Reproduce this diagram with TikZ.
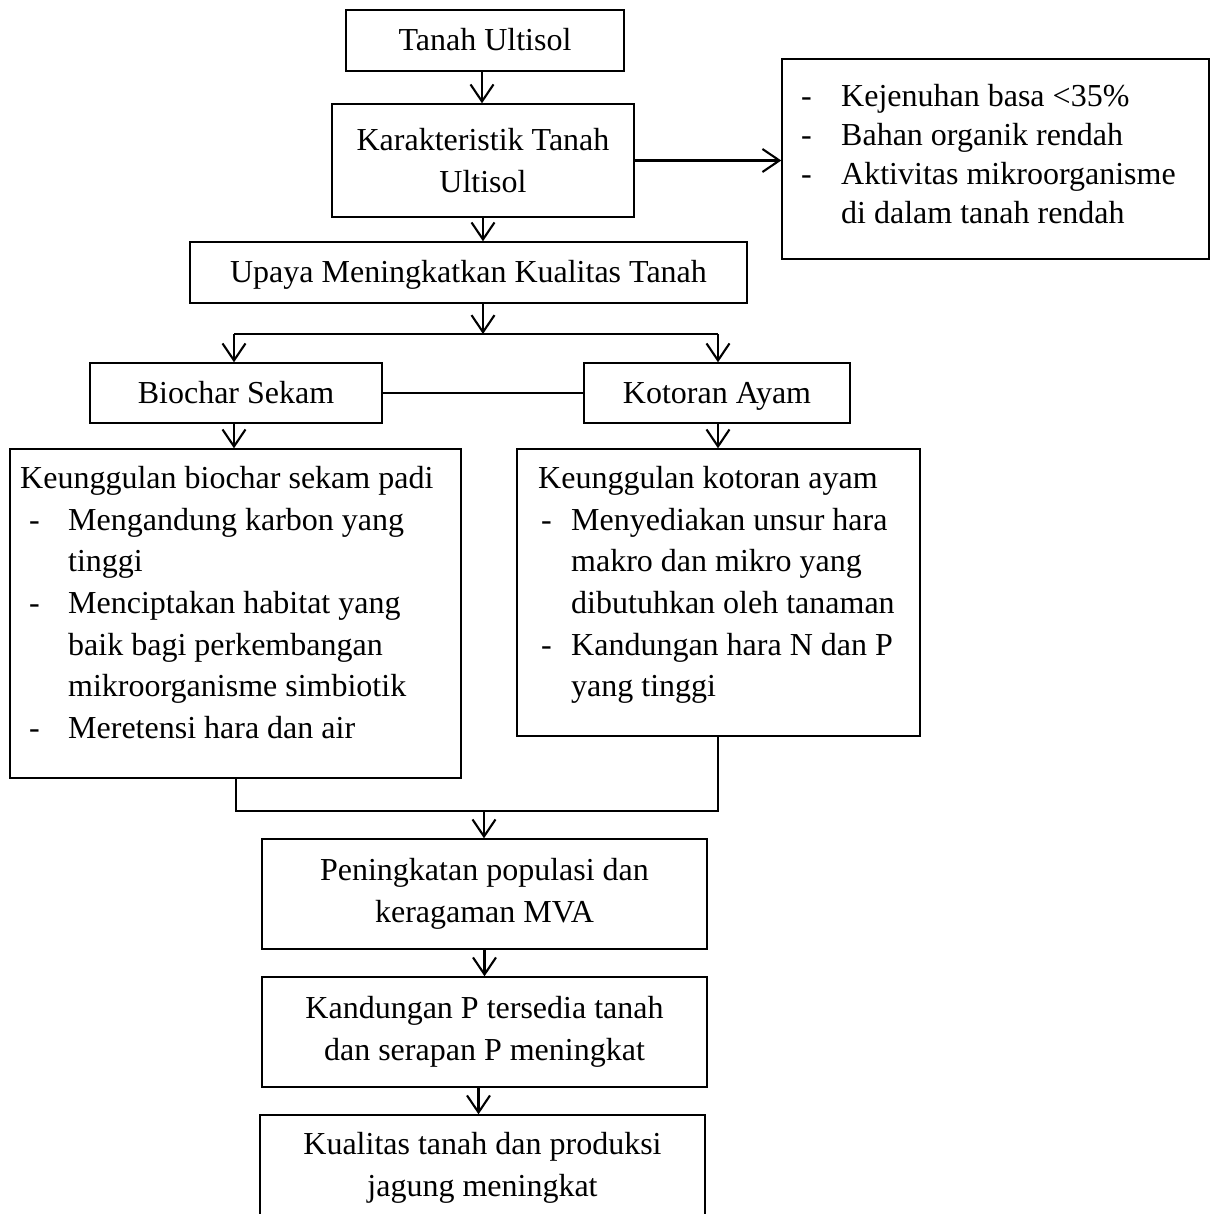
\documentclass[tikz,border=0pt]{standalone}
\usepackage{fontspec}
\setmainfont{Liberation Serif}
\usetikzlibrary{arrows.meta,calc}
\tikzset{
  boxnode/.style={draw=black, line width=1.4pt, rectangle, inner sep=0pt, align=center,
    font=\fontsize{32}{41.7}\selectfont},
  oneline/.style={text height=22pt, text depth=1.5pt},
  txt/.style={inner sep=0pt, anchor=base west, font=\fontsize{32}{41.7}\selectfont},
  conn/.style={line width=2.2pt, -{Straight Barb[length=17pt,width=23pt,line width=2.1pt]}},
  plain/.style={line width=2.4pt},
  thickline/.style={line width=2.7pt, line join=miter},
}
\begin{document}
\begin{tikzpicture}[x=1pt,y=-1pt]
\clip (0,0) rectangle (1210,1214);
\fill[white] (0,0) rectangle (1210,1214);

% boxes
\node[boxnode, oneline, minimum width=278pt, minimum height=61pt] (t1) at (485,40.5) {Tanah Ultisol};
\node[boxnode, minimum width=302pt, minimum height=113pt] (t2) at (483,160.5) {Karakteristik Tanah\\Ultisol};
\node[boxnode, minimum width=427pt, minimum height=200pt] (rb) at (995.5,159) {};
\node[boxnode, oneline, minimum width=557pt, minimum height=61pt] (up) at (468.5,272.5) {Upaya Meningkatkan Kualitas Tanah};
\node[boxnode, oneline, minimum width=292pt, minimum height=60pt] (bs) at (236,393) {Biochar Sekam};
\node[boxnode, oneline, minimum width=266pt, minimum height=60pt] (ka) at (717,393) {Kotoran Ayam};
\node[boxnode, minimum width=451pt, minimum height=329pt] (kb) at (235.5,613.5) {};
\node[boxnode, minimum width=403pt, minimum height=287pt] (kk) at (718.5,592.5) {};
\node[boxnode, minimum width=445pt, minimum height=110pt] (pm) at (484.5,894) {Peningkatan populasi dan\\keragaman MVA};
\node[boxnode, minimum width=445pt, minimum height=110pt] (kp) at (484.5,1032) {Kandungan P tersedia tanah\\dan serapan P meningkat};
\node[boxnode, minimum width=445pt, minimum height=106pt] (kq) at (482.5,1168) {Kualitas tanah dan produksi\\jagung meningkat};

% text of the right top box
\node[txt] (r1d) at (801,107) {-};
\node[txt] (r1) at (841,107) {Kejenuhan basa <35\%};
\node[txt] (r2d) at (801,146) {-};
\node[txt] (r2) at (841,146) {Bahan organik rendah};
\node[txt] (r3d) at (801,185) {-};
\node[txt] (r3) at (841,185) {Aktivitas mikroorganisme};
\node[txt] (r4) at (841,224) {di dalam tanah rendah};

% left list
\node[txt] (l0) at (20,488) {Keunggulan biochar sekam padi};
\node[txt] (l1d) at (29,530) {-};
\node[txt] (l1) at (68,530) {Mengandung karbon yang};
\node[txt] (l2) at (68,571) {tinggi};
\node[txt] (l3d) at (29,613) {-};
\node[txt] (l3) at (68,613) {Menciptakan habitat yang};
\node[txt] (l4) at (68,655) {baik bagi perkembangan};
\node[txt] (l5) at (68,696) {mikroorganisme simbiotik};
\node[txt] (l6d) at (29,738) {-};
\node[txt] (l6) at (68,738) {Meretensi hara dan air};

% right list
\node[txt] (k0) at (538,488) {Keunggulan kotoran ayam};
\node[txt] (k1d) at (541,530) {-};
\node[txt] (k1) at (571,530) {Menyediakan unsur hara};
\node[txt] (k2) at (571,571) {makro dan mikro yang};
\node[txt] (k3) at (571,613) {dibutuhkan oleh tanaman};
\node[txt] (k4d) at (541,655) {-};
\node[txt] (k4) at (571,655) {Kandungan hara N dan P};
\node[txt] (k5) at (571,696) {yang tinggi};

% junction coordinates
\coordinate (j1) at (483,334);
\coordinate (j2) at (484,811);

% connectors
\draw[conn] ([xshift=-3pt]t1.south) -- ([xshift=-3pt]t1.south |- t2.north);
\draw[conn] (t2.east) -- (t2.east -| rb.west);
\draw[conn] (t2.south) -- (t2.south |- up.north);
\draw[conn] (j1 |- up.south) -- (j1);
\draw[thickline] ([xshift=-2pt]bs.north |- j1) -- ([xshift=1pt]ka.north |- j1);
\draw[conn] ([xshift=-2pt]bs.north |- j1) -- ([xshift=-2pt]bs.north);
\draw[conn] ([xshift=1pt]ka.north |- j1) -- ([xshift=1pt]ka.north);
\draw[plain] (bs.east) -- (ka.west);
\draw[conn] ([xshift=-2pt]bs.south) -- ([xshift=-2pt]bs.south |- kb.north);
\draw[conn] ([xshift=1pt]ka.south) -- ([xshift=1pt]ka.south |- kk.north);
\draw[thickline] (bs.south |- kb.south) -- (bs.south |- j2) -- ([xshift=1pt]ka.south |- j2) -- ([xshift=1pt]ka.south |- kk.south);
\draw[conn] (j2) -- (j2 |- pm.north);
\draw[conn] (pm.south) -- (pm.south |- kp.north);
\draw[conn] ([xshift=-6pt]kp.south) -- ([xshift=-6pt]kp.south |- kq.north);
\end{tikzpicture}
\end{document}
